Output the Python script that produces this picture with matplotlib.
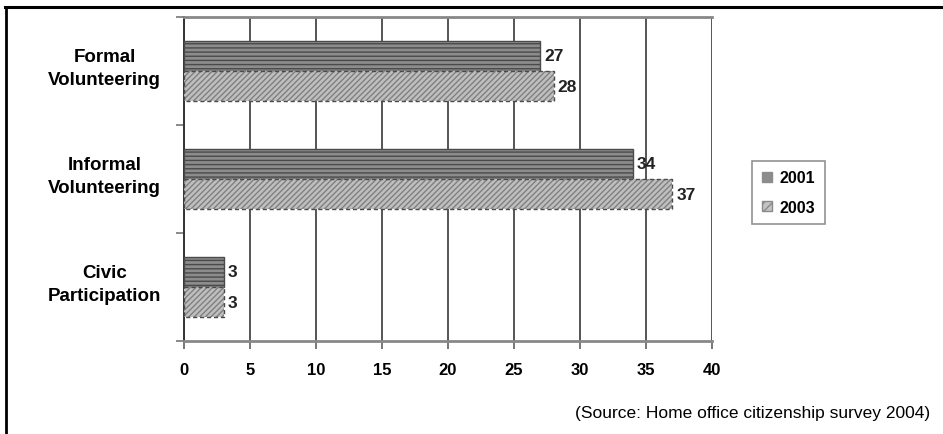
import matplotlib
matplotlib.use('Agg')
import matplotlib.pyplot as plt
from matplotlib.lines import Line2D
from matplotlib.patches import Patch
import numpy as np

plt.rcParams['font.family'] = ['Liberation Sans', 'DejaVu Sans']
plt.rcParams['hatch.linewidth'] = 1.0

# survey results, percent
categories = ['Formal\nVolunteering', 'Informal\nVolunteering', 'Civic\nParticipation']
years = ['2001', '2003']
vals_2001 = [27, 34, 3]
vals_2003 = [28, 37, 3]
xticks = [0, 5, 10, 15, 20, 25, 30, 35, 40]
source = '(Source: Home office citizenship survey 2004)'

fig = plt.figure(figsize=(9.43, 4.35), dpi=100)
ax = fig.add_axes([0.1951, 0.2138, 0.5599, 0.7448])

y = np.arange(len(categories))
h = 0.28
b1 = ax.barh(y - h / 2, vals_2001, height=h, color='#8c8c8c', edgecolor='#4a4a4a',
             hatch='----', linewidth=1.0, zorder=3)
# hatched fill first, dashed outline on top
b2 = ax.barh(y + h / 2, vals_2003, height=h, color='#bfbfbf', edgecolor='#808080',
             hatch='//////', linewidth=0, zorder=3)
ax.barh(y + h / 2, vals_2003, height=h, fill=False, edgecolor='#4a4a4a',
        linewidth=1.0, linestyle=(0, (3, 2)), zorder=4)

for bars in (b1, b2):
    ax.bar_label(bars, padding=3, fontsize=12.5, fontweight='bold', color='#222222')

ax.set_xlim(0, 40)
ax.set_ylim(2.5, -0.5)

# vertical gridlines
ax.set_xticks(xticks)
ax.set_xticklabels([str(t) for t in xticks], fontsize=12, fontweight='bold')
ax.xaxis.grid(True, color='#555555', linewidth=1.4, zorder=0)
ax.tick_params(axis='x', length=6, width=1.4, color='#777777', pad=9)

# category separators as minor ticks, names drawn separately
ax.set_yticks([])
ax.set_yticks([-0.5, 0.5, 1.5, 2.5], minor=True)
ax.tick_params(axis='y', which='minor', length=6, width=1.2, color='#777777')
for yi, name in zip(y, categories):
    ax.text(-0.150, yi - 0.03, name, transform=ax.get_yaxis_transform(),
            ha='center', va='center', fontsize=13.5, fontweight='bold',
            linespacing=1.45)

for side in ('top', 'bottom'):
    ax.spines[side].set_color('#888888')
    ax.spines[side].set_linewidth(2.0)
ax.spines['left'].set_color('#333333')
ax.spines['left'].set_linewidth(1.4)
ax.spines['right'].set_visible(False)

handles = [Patch(facecolor='#8c8c8c', edgecolor='#8c8c8c', hatch='----'),
           Patch(facecolor='#c4c4c4', edgecolor='#8a8a8a', hatch='////')]
leg = fig.legend(handles, years, loc='center left', bbox_to_anchor=(0.7895, 0.555),
                 frameon=True, fancybox=False, handlelength=0.6, handleheight=0.6,
                 handletextpad=0.5, labelspacing=0.9, borderpad=0.6,
                 prop={'size': 11.5, 'weight': 'bold'})
leg.get_frame().set_edgecolor('#777777')
leg.get_frame().set_linewidth(1.2)

fig.text(0.986, 0.05, source, ha='right', va='center', fontsize=12.5)

# outer frame: top and left edges only
fig.add_artist(Line2D([0.005, 1.0], [0.982, 0.982], transform=fig.transFigure,
                      color='black', linewidth=2.2))
fig.add_artist(Line2D([0.0065, 0.0065], [0.0, 0.982], transform=fig.transFigure,
                      color='black', linewidth=2.0))

fig.savefig('out.png', dpi=100)
